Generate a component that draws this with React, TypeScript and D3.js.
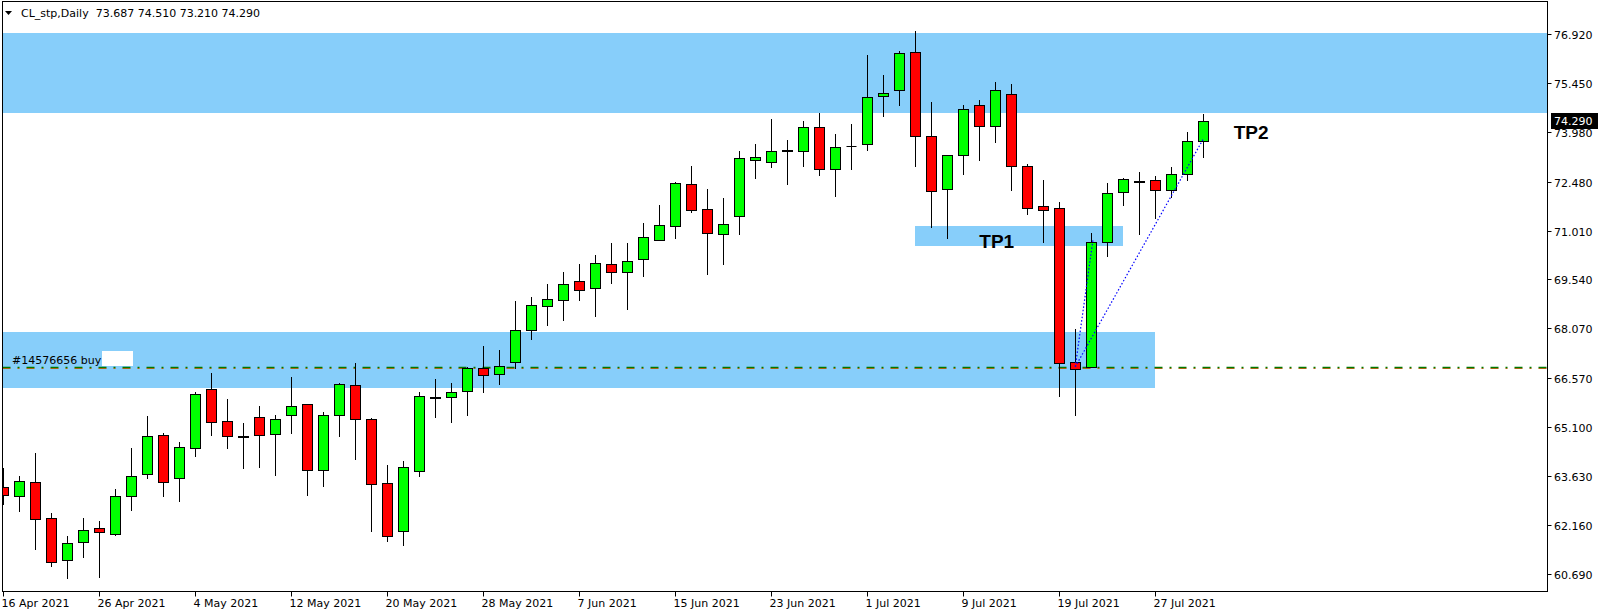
import React, { useRef, useEffect } from "react"
import * as d3 from "d3"

// trading days shown on the chart (one candle each)
const days = [
  "2021-04-16", "2021-04-19", "2021-04-20", "2021-04-21", "2021-04-22", "2021-04-23",
  "2021-04-26", "2021-04-27", "2021-04-28", "2021-04-29", "2021-04-30", "2021-05-03",
  "2021-05-04", "2021-05-05", "2021-05-06", "2021-05-07", "2021-05-10", "2021-05-11",
  "2021-05-12", "2021-05-13", "2021-05-14", "2021-05-17", "2021-05-18", "2021-05-19",
  "2021-05-20", "2021-05-21", "2021-05-24", "2021-05-25", "2021-05-26", "2021-05-27",
  "2021-05-28", "2021-05-31", "2021-06-01", "2021-06-02", "2021-06-03", "2021-06-04",
  "2021-06-07", "2021-06-08", "2021-06-09", "2021-06-10", "2021-06-11", "2021-06-14",
  "2021-06-15", "2021-06-16", "2021-06-17", "2021-06-18", "2021-06-21", "2021-06-22",
  "2021-06-23", "2021-06-24", "2021-06-25", "2021-06-28", "2021-06-29", "2021-06-30",
  "2021-07-01", "2021-07-02", "2021-07-05", "2021-07-06", "2021-07-07", "2021-07-08",
  "2021-07-09", "2021-07-12", "2021-07-13", "2021-07-14", "2021-07-15", "2021-07-16",
  "2021-07-19", "2021-07-20", "2021-07-21", "2021-07-22", "2021-07-23", "2021-07-26",
  "2021-07-27", "2021-07-28", "2021-07-29", "2021-07-30",
]

const opens = [
  63.30, 63.04, 63.44, 62.36, 61.10, 61.64, 62.06, 61.90, 63.02, 63.68,
  64.86, 63.56, 64.47, 66.24, 65.28, 64.84, 65.40, 64.89, 65.46, 65.79,
  63.80, 65.46, 66.36, 65.34, 63.41, 61.97, 63.77, 66.00, 66.00, 66.18,
  66.87, 66.69, 67.05, 68.01, 68.73, 68.91, 69.48, 69.27, 69.99, 69.75,
  70.14, 70.72, 71.14, 72.40, 71.65, 70.90, 71.44, 73.12, 73.06, 73.40,
  73.39, 74.11, 72.85, 73.54, 73.60, 75.06, 75.24, 76.36, 73.84, 72.25,
  73.27, 74.77, 74.14, 75.10, 72.95, 71.74, 71.68, 67.05, 66.92, 70.66,
  72.16, 72.49, 72.52, 72.22, 72.70, 73.687,
]
const highs = [
  63.88, 63.63, 64.32, 62.52, 61.83, 62.37, 62.28, 63.24, 64.47, 65.44,
  64.93, 64.66, 66.15, 66.73, 65.94, 65.22, 65.73, 65.47, 66.61, 65.80,
  65.56, 66.43, 67.03, 65.37, 63.96, 64.08, 66.16, 66.55, 66.43, 66.92,
  67.54, 67.41, 68.89, 69.01, 69.40, 69.76, 69.99, 70.27, 70.63, 70.63,
  71.24, 71.78, 72.46, 72.95, 72.25, 71.98, 73.40, 73.61, 74.36, 73.73,
  74.30, 74.54, 73.91, 74.21, 76.28, 75.68, 76.40, 77.00, 74.87, 73.27,
  74.78, 74.93, 75.47, 75.41, 73.01, 72.53, 71.87, 68.05, 70.93, 72.44,
  72.58, 72.77, 72.65, 72.92, 73.97, 74.51,
]
const lows = [
  62.79, 62.59, 61.45, 60.93, 60.57, 61.21, 60.60, 61.87, 62.62, 63.58,
  63.04, 62.89, 64.24, 64.87, 64.48, 63.88, 63.91, 63.67, 64.93, 63.06,
  63.34, 64.84, 64.15, 61.99, 61.69, 61.57, 63.64, 65.42, 65.27, 65.48,
  66.17, 66.41, 66.89, 67.76, 68.18, 68.33, 68.93, 68.45, 69.44, 68.66,
  69.65, 70.71, 70.79, 71.58, 69.71, 70.01, 70.91, 72.60, 72.93, 72.42,
  72.96, 72.69, 72.06, 72.87, 73.44, 74.46, 74.79, 72.96, 71.11, 70.79,
  72.72, 73.14, 73.66, 72.24, 71.52, 70.67, 66.04, 65.47, 66.90, 70.24,
  71.79, 70.91, 71.40, 72.01, 72.54, 73.21,
]
const closes = [
  63.05, 63.47, 62.33, 61.04, 61.62, 62.00, 61.94, 63.02, 63.62, 64.83,
  63.44, 64.50, 66.09, 65.25, 64.83, 64.80, 64.86, 65.34, 65.73, 63.80,
  65.46, 66.39, 65.34, 63.38, 61.82, 63.90, 66.03, 66.02, 66.15, 66.87,
  66.66, 66.93, 68.01, 68.76, 68.94, 69.39, 69.21, 70.02, 69.75, 70.08,
  70.81, 71.17, 72.43, 71.62, 70.93, 71.20, 73.18, 73.21, 73.39, 73.42,
  74.11, 72.85, 73.51, 73.54, 75.01, 75.13, 76.33, 73.84, 72.19, 73.27,
  74.65, 74.14, 75.22, 72.94, 71.68, 71.64, 67.02, 66.86, 70.66, 72.13,
  72.55, 72.51, 72.22, 72.70, 73.69, 74.29,
]

const priceTicks = [76.92, 75.45, 73.98, 72.48, 71.01, 69.54, 68.07, 66.57, 65.1, 63.63, 62.16, 60.69]

// rectangles drawn on the chart: top price, bottom price, first bar, last bar
const zoneTops = [76.93, 67.97, 71.145]
const zoneBottoms = [74.55, 66.29, 70.55]
const zoneFrom = [-2, -2, 57]
const zoneTo = [99, 72, 70]

const buyPrice = 66.917
const buyLabel = "#14576656 buy"
// trade history lines: [bar, price] -> [bar, price]
const tradeFrom = [[67, 66.917], [67, 66.917]]
const tradeTo = [[68.1, 70.72], [75, 73.76]]

const targetNames = ["TP1", "TP2"]
const targetBars = [61, 76.9]
const targetPrices = [70.49, 73.76]

const title = "CL_stp,Daily  73.687 74.510 73.210 74.290"
const lastPrice = 74.29

const W = 1604
const H = 616
const FONT = "'DejaVu Sans', sans-serif"

const Chart: React.FC = () => {
  const svgRef = useRef<SVGSVGElement>(null)

  useEffect(() => {
    const svg = d3.select(svgRef.current)
    svg.selectAll("*").remove()

    const left = 2.5, right = 1547.5, top = 1.5, bottom = 591.5

    const x = d3.scaleLinear().domain([0, 75]).range([3.3, 1203.3])
    const y = d3.scaleLinear().domain([60.69, 76.92]).range([574, 33.8])
    const fmt = d3.timeFormat("%-d %b %Y")
    const parse = d3.timeParse("%Y-%m-%d")

    svg.append("rect").attr("width", W).attr("height", H).attr("fill", "#fff")

    svg.append("clipPath").attr("id", "plotclip")
      .append("rect")
      .attr("x", left + 0.5).attr("y", top + 0.5)
      .attr("width", right - left - 1).attr("height", bottom - top - 1)

    const plot = svg.append("g").attr("clip-path", "url(#plotclip)")

    // zones
    zoneTops.forEach((t, i) => {
      plot.append("rect")
        .attr("x", Math.round(x(zoneFrom[i])))
        .attr("y", Math.round(y(t)))
        .attr("width", Math.round(x(zoneTo[i])) - Math.round(x(zoneFrom[i])))
        .attr("height", Math.round(y(zoneBottoms[i])) - Math.round(y(t)))
        .attr("fill", "#87cefa")
    })

    // buy line (green over orange, dash-dot)
    const by = Math.round(y(buyPrice))
    plot.append("line")
      .attr("x1", left).attr("x2", right)
      .attr("y1", by + 1.5).attr("y2", by + 1.5)
      .attr("stroke", "#e0601a").attr("stroke-width", 1)
      .attr("stroke-dasharray", "8,7,2,7")
    plot.append("line")
      .attr("x1", left).attr("x2", right)
      .attr("y1", by + 0.5).attr("y2", by + 0.5)
      .attr("stroke", "#007800").attr("stroke-width", 1.3)
      .attr("stroke-dasharray", "8,7,2,7")

    plot.append("text")
      .attr("x", 12).attr("y", by - 3)
      .attr("font-family", FONT).attr("font-size", 11)
      .attr("fill", "#000")
      .text(buyLabel)
    plot.append("rect")
      .attr("x", 102).attr("y", by - 16).attr("width", 31).attr("height", 15)
      .attr("fill", "#fff")

    // candles
    days.forEach((d, i) => {
      const cx = Math.round(x(i)) + 0.5
      const o = opens[i], c = closes[i]
      plot.append("line")
        .attr("x1", cx).attr("x2", cx)
        .attr("y1", Math.round(y(highs[i]))).attr("y2", Math.round(y(lows[i])) + 1)
        .attr("stroke", "#000").attr("stroke-width", 1)

      const yt = Math.round(y(Math.max(o, c))) + 0.5
      const yb = Math.round(y(Math.min(o, c))) + 0.5
      if (o === c) {
        plot.append("line")
          .attr("x1", cx - 5).attr("x2", cx + 5)
          .attr("y1", yt).attr("y2", yt)
          .attr("stroke", "#000").attr("stroke-width", 1)
      } else {
        plot.append("rect")
          .attr("x", cx - 5).attr("y", yt)
          .attr("width", 10).attr("height", Math.max(yb - yt, 1))
          .attr("fill", c > o ? "#00ff00" : "#ff0000")
          .attr("stroke", "#000").attr("stroke-width", 1)
      }
    })

    // trade lines
    tradeFrom.forEach((f, i) => {
      plot.append("line")
        .attr("x1", x(f[0])).attr("y1", y(f[1]))
        .attr("x2", x(tradeTo[i][0])).attr("y2", y(tradeTo[i][1]))
        .attr("stroke", "#0000ff").attr("stroke-width", 1.2)
        .attr("stroke-dasharray", "1.5,2")
    })

    // TP labels
    targetNames.forEach((n, i) => {
      plot.append("text")
        .attr("x", x(targetBars[i])).attr("y", y(targetPrices[i]))
        .attr("font-family", "'Liberation Sans', Arial, sans-serif")
        .attr("font-weight", "bold").attr("font-size", 19)
        .attr("fill", "#000")
        .text(n)
    })

    // frame
    svg.append("rect")
      .attr("x", left).attr("y", top)
      .attr("width", right - left).attr("height", bottom - top)
      .attr("fill", "none").attr("stroke", "#000").attr("stroke-width", 1)

    // title
    svg.append("path")
      .attr("d", "M5,11 L12,11 L8.5,15 Z").attr("fill", "#000")
    svg.append("text")
      .attr("x", 21).attr("y", 17)
      .attr("font-family", FONT).attr("font-size", 11)
      .attr("fill", "#000")
      .attr("xml:space", "preserve")
      .style("white-space", "pre")
      .text(title)

    // price axis
    const yAxis = svg.append("g")
    priceTicks.forEach(v => {
      const ty = Math.round(y(v)) + 0.5
      yAxis.append("line")
        .attr("x1", right).attr("x2", right + 4)
        .attr("y1", ty).attr("y2", ty)
        .attr("stroke", "#000")
      yAxis.append("text")
        .attr("x", 1554).attr("y", ty + 4)
        .attr("font-family", FONT).attr("font-size", 11)
        .attr("fill", "#000")
        .text(v.toFixed(3))
    })
    const ly = Math.round(y(lastPrice))
    yAxis.append("rect")
      .attr("x", 1551).attr("y", ly - 8).attr("width", 47).attr("height", 16)
      .attr("fill", "#000")
    yAxis.append("text")
      .attr("x", 1554).attr("y", ly + 4)
      .attr("font-family", FONT).attr("font-size", 11)
      .attr("fill", "#fff")
      .text(lastPrice.toFixed(3))

    // time axis: a label every 6 bars
    const xAxis = svg.append("g")
    days.forEach((d, i) => {
      if (i % 6 !== 0) return
      const tx = Math.round(x(i)) + 0.5
      xAxis.append("line")
        .attr("x1", tx).attr("x2", tx)
        .attr("y1", bottom).attr("y2", bottom + 5)
        .attr("stroke", "#000")
      xAxis.append("text")
        .attr("x", tx - 2).attr("y", 607)
        .attr("font-family", FONT).attr("font-size", 11)
        .attr("fill", "#000")
        .text(fmt(parse(d) as Date))
    })
  }, [])

  return (
    <svg ref={svgRef} width={W} height={H}
      style={{ position: "absolute", left: 0, top: 0, display: "block" }} />
  )
}

export default function App() {
  return <Chart />
}
